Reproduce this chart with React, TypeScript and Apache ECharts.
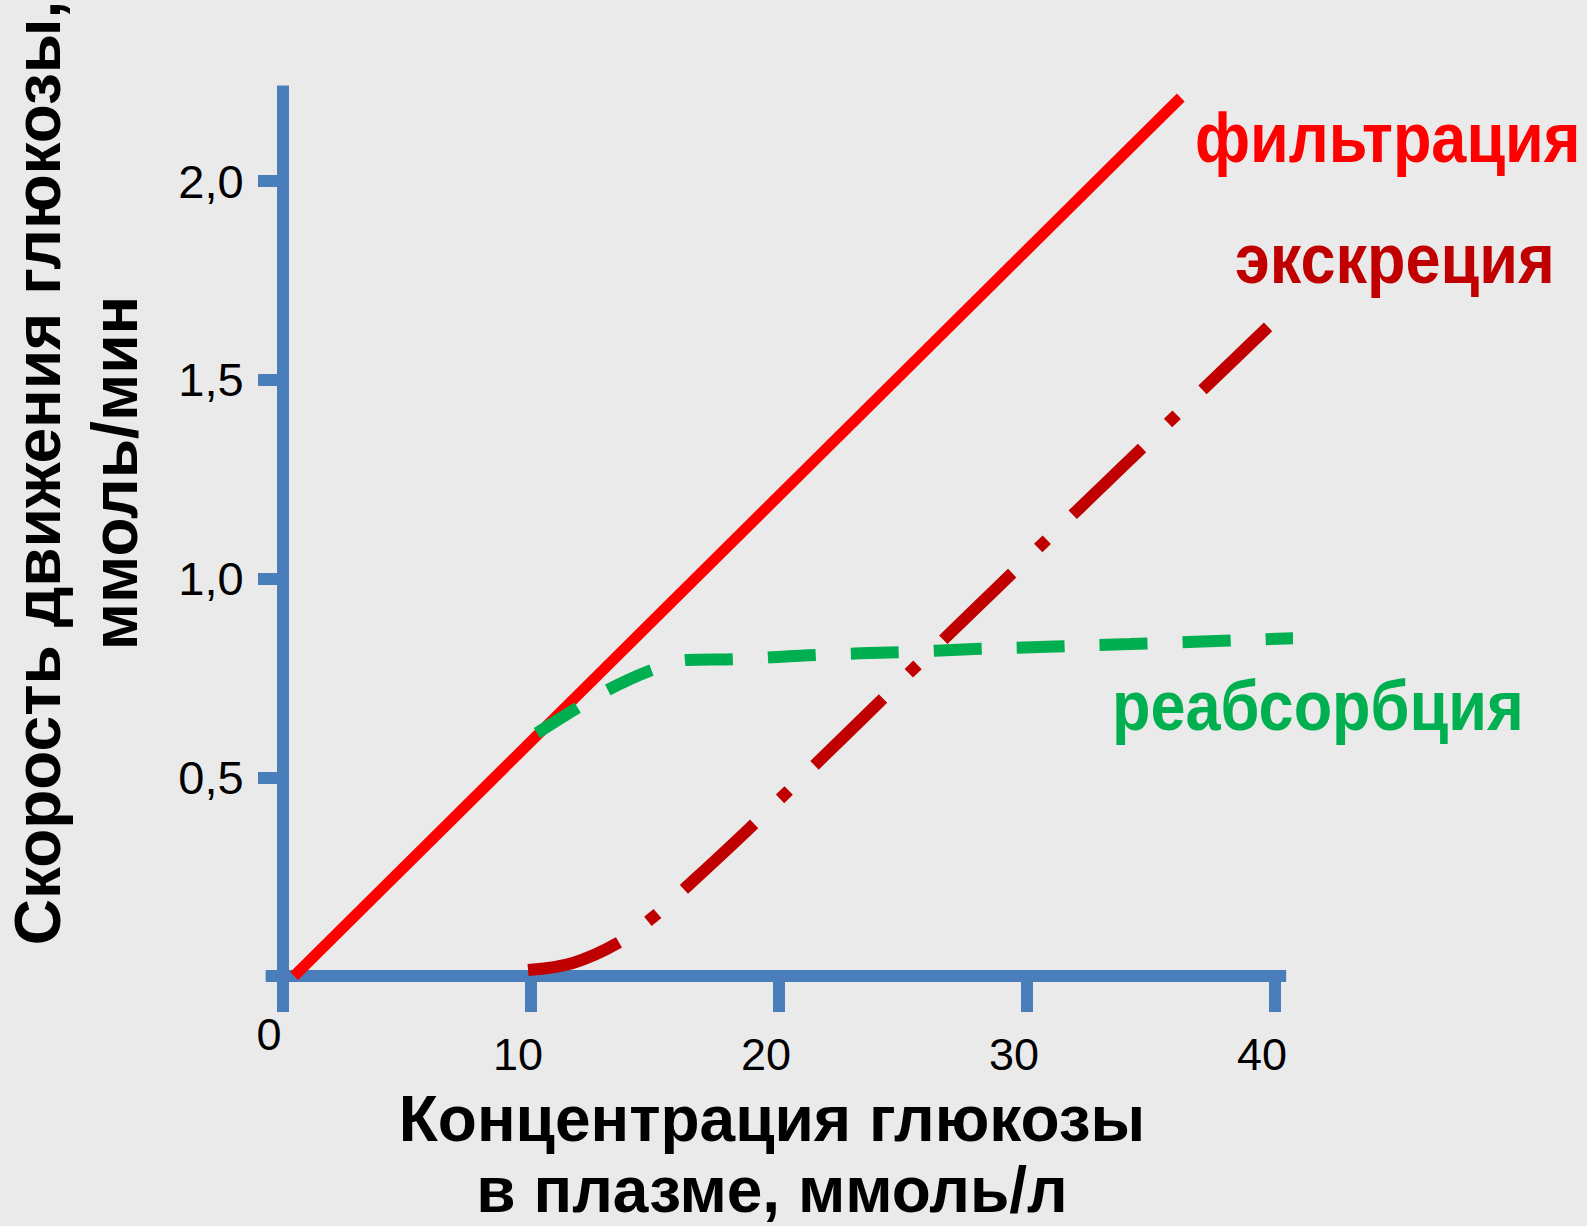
import React, { useEffect, useRef } from "react";
import * as echarts from "echarts";

// ---- data ----
const xTickValues = [0, 10, 20, 30, 40];
const yTickValues = [0.5, 1.0, 1.5, 2.0];

const filtrationX = [0.45, 36.2];
const filtrationY = [0.0, 2.21];

const excretionX = [9.88, 11.69, 13.5, 14.88, 16.13, 18.95, 27.9, 39.72];
const excretionY = [0.015, 0.033, 0.083, 0.146, 0.216, 0.38, 0.923, 1.633];

const reabsorptionX = [10.24, 11.85, 13.1, 14.88, 16.29, 18.2, 21.57, 24.96, 28.1, 34.15, 40.85];
const reabsorptionY = [0.611, 0.674, 0.72, 0.77, 0.795, 0.797, 0.808, 0.815, 0.823, 0.835, 0.85];

const seriesNames = ["фильтрация", "экскреция", "реабсорбция"];
const seriesColors = ["#ff0000", "#c00000", "#00b050"];

const xTitle = "Концентрация глюкозы\nв плазме, ммоль/л";
const yTitle = "Скорость движения глюкозы,\nммоль/мин";

const FONT = "'Liberation Sans', Arial, Helvetica, sans-serif";
const AXIS_BLUE = "#4a7ebb";
const BG = "#eaeaea";

const zip = (xs: number[], ys: number[]) => xs.map((x, i) => [x, ys[i]]);

export default function App() {
  const ref = useRef<HTMLDivElement>(null);

  useEffect(() => {
    document.body.style.margin = "0";
    document.body.style.background = BG;
    const chart = echarts.init(ref.current!, undefined, { renderer: "svg" });

    const xMin = -0.7;
    const xMax = 40.45;
    const pxPerX = 24.8;
    const zeroX = 283;
    const yMax = 2.24;
    const pxPerY = 397.5;
    const zeroY = 976;

    const gridLeft = zeroX + xMin * pxPerX;
    const gridRight = 1587 - (zeroX + xMax * pxPerX);
    const gridTop = zeroY - yMax * pxPerY;
    const gridBottom = 1226 - zeroY;

    const labelText = (
      text: string,
      x: number,
      y: number,
      color: string
    ) => ({
      type: "text",
      x,
      y,
      scaleX: 0.9,
      silent: true,
      style: {
        text,
        fill: color,
        font: `bold 70px ${FONT}`,
        align: "left",
        textAlign: "left",
        verticalAlign: "middle",
        textVerticalAlign: "middle",
      },
    });

    const option: any = {
      animation: false,
      backgroundColor: BG,
      grid: {
        left: gridLeft,
        right: gridRight,
        top: gridTop,
        bottom: gridBottom,
        containLabel: false,
        outerBoundsMode: "none",
      },
      xAxis: {
        type: "value",
        min: xMin,
        max: xMax,
        splitLine: { show: false },
        axisLine: {
          show: true,
          onZero: true,
          lineStyle: { color: AXIS_BLUE, width: 12, cap: "butt" },
        },
        axisTick: {
          show: true,
          customValues: xTickValues,
          length: 36,
          lineStyle: { color: AXIS_BLUE, width: 12 },
        },
        axisLabel: {
          show: true,
          customValues: xTickValues,
          margin: 36,
          color: "#000",
          fontFamily: FONT,
          fontSize: 45,
          formatter: (v: number) => (v === 0 ? `{z|0}` : `{a|${v}}`),
          rich: {
            z: {
              fontFamily: FONT,
              fontSize: 45,
              color: "#000",
              padding: [0, 28, 0, 0],
            },
            a: {
              fontFamily: FONT,
              fontSize: 45,
              color: "#000",
              padding: [20, 26, 0, 0],
            },
          },
        },
      },
      yAxis: {
        type: "value",
        min: 0,
        max: yMax,
        splitLine: { show: false },
        axisLine: {
          show: true,
          onZero: true,
          lineStyle: { color: AXIS_BLUE, width: 12, cap: "butt" },
        },
        axisTick: {
          show: true,
          customValues: yTickValues,
          length: 25,
          lineStyle: { color: AXIS_BLUE, width: 12 },
        },
        axisLabel: {
          show: true,
          customValues: yTickValues,
          margin: 22,
          color: "#000",
          fontFamily: FONT,
          fontSize: 47,
          formatter: (v: number) => v.toFixed(1).replace(".", ","),
        },
      },
      series: [
        {
          name: seriesNames[0],
          type: "line",
          data: zip(filtrationX, filtrationY),
          showSymbol: false,
          symbol: "none",
          lineStyle: { color: seriesColors[0], width: 11, cap: "butt" },
          z: 3,
        },
        {
          name: seriesNames[1],
          type: "line",
          data: zip(excretionX, excretionY),
          showSymbol: false,
          symbol: "none",
          smooth: 0.35,
          lineStyle: {
            color: seriesColors[1],
            width: 12,
            type: [96, 36, 12, 36],
            cap: "butt",
          },
          z: 4,
        },
        {
          name: seriesNames[2],
          type: "line",
          data: zip(reabsorptionX, reabsorptionY),
          showSymbol: false,
          symbol: "none",
          smooth: 0.35,
          lineStyle: {
            color: seriesColors[2],
            width: 12,
            type: [48, 35],
            cap: "butt",
          },
          z: 5,
        },
      ],
      graphic: [
        labelText(seriesNames[0], 1195, 138, seriesColors[0]),
        labelText(seriesNames[1], 1235, 259, seriesColors[1]),
        labelText(seriesNames[2], 1112, 706, seriesColors[2]),
        {
          type: "text",
          x: 772,
          y: 1083,
          silent: true,
          style: {
            text: xTitle,
            fill: "#000",
            font: `bold 64px ${FONT}`,
            lineHeight: 71,
            align: "center",
            textAlign: "center",
            verticalAlign: "top",
            textVerticalAlign: "top",
          },
        },
        {
          type: "text",
          x: 76,
          y: 473,
          rotation: Math.PI / 2,
          silent: true,
          style: {
            text: yTitle,
            fill: "#000",
            font: `bold 64px ${FONT}`,
            lineHeight: 77,
            align: "center",
            textAlign: "center",
            verticalAlign: "middle",
            textVerticalAlign: "middle",
          },
        },
      ],
    };

    chart.setOption(option);
    return () => chart.dispose();
  }, []);

  return <div ref={ref} style={{ width: 1587, height: 1226, background: BG }} />;
}
